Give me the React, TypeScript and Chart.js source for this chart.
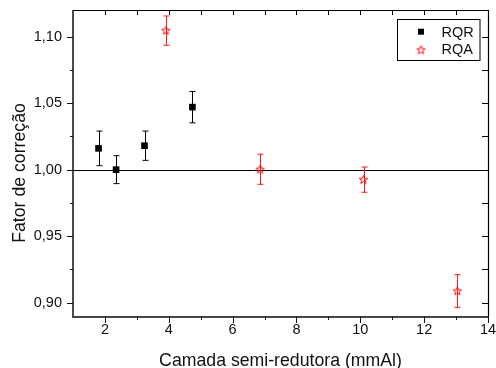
import React, { useEffect, useRef } from 'react';
import { Chart, registerables } from 'chart.js';

Chart.register(...registerables);

// ---- data ----
const seriesNames = ['RQR', 'RQA'];
const rqrX = [1.8, 2.35, 3.24, 4.74];
const rqrY = [1.016, 1.0, 1.018, 1.047];
const rqrErr = [0.013, 0.0105, 0.011, 0.0118];
const rqaX = [3.91, 6.86, 10.1, 13.04];
const rqaY = [1.1045, 1.0003, 0.9925, 0.9088];
const rqaErr = [0.011, 0.0113, 0.0095, 0.0123];
const xTickLabels = [2, 4, 6, 8, 10, 12, 14];
const xMinorTicks = [3, 5, 7, 9, 11, 13];
const yTickLabels = [0.9, 0.95, 1.0, 1.05, 1.1];
const yMinorTicks = [0.925, 0.975, 1.025, 1.075];
const referenceLine = [1.0];
const xTitle = 'Camada semi-redutora (mmAl)';
const yTitle = 'Fator de correção';

const FONT = '"Liberation Sans", Arial, sans-serif';
const RED = '#ff0000';

function makeStar(color: string): HTMLCanvasElement {
  const c = document.createElement('canvas');
  c.width = 11;
  c.height = 11;
  const ctx = c.getContext('2d')!;
  const cx = 5.5, cy = 5.7, ro = 4.4, ri = 1.9;
  ctx.beginPath();
  for (let i = 0; i < 10; i++) {
    const r = i % 2 === 0 ? ro : ri;
    const a = -Math.PI / 2 + (i * Math.PI) / 5;
    const px = cx + r * Math.cos(a);
    const py = cy + r * Math.sin(a);
    if (i === 0) ctx.moveTo(px, py);
    else ctx.lineTo(px, py);
  }
  ctx.closePath();
  ctx.strokeStyle = color;
  ctx.lineWidth = 1;
  ctx.stroke();
  return c;
}

export default function App() {
  const ref = useRef<HTMLCanvasElement | null>(null);

  useEffect(() => {
    document.body.style.margin = '0';
    const canvas = ref.current!;
    const star = makeStar(RED);
    const errs = [rqrErr, rqaErr];
    const errColors = ['#000000', '#ff1a1a'];

    const framePlugin = {
      id: 'frame',
      beforeDatasetsDraw(chart: any) {
        const { ctx, chartArea: a, scales } = chart;
        const xs = scales.x, ys = scales.y;
        ctx.save();
        // reference line
        ctx.strokeStyle = '#000';
        ctx.lineWidth = 1;
        referenceLine.forEach((v) => {
          const py = Math.round(ys.getPixelForValue(v)) + 0.5;
          ctx.beginPath();
          ctx.moveTo(a.left, py);
          ctx.lineTo(a.right, py);
          ctx.stroke();
        });
        // error bars
        chart.data.datasets.forEach((ds: any, di: number) => {
          const e = errs[di];
          ctx.strokeStyle = errColors[di];
          ctx.lineWidth = 1;
          ds.data.forEach((p: any, i: number) => {
            const px = Math.round(xs.getPixelForValue(p.x)) + 0.5;
            const top = ys.getPixelForValue(p.y + e[i]);
            const bot = ys.getPixelForValue(p.y - e[i]);
            ctx.beginPath();
            ctx.moveTo(px, top);
            ctx.lineTo(px, bot);
            ctx.moveTo(px - 3, top);
            ctx.lineTo(px + 3, top);
            ctx.moveTo(px - 3, bot);
            ctx.lineTo(px + 3, bot);
            ctx.stroke();
          });
        });
        ctx.restore();
      },
      afterDraw(chart: any) {
        const { ctx, chartArea: a, scales } = chart;
        const xs = scales.x, ys = scales.y;
        ctx.save();
        // top & right frame
        ctx.strokeStyle = '#000';
        ctx.lineWidth = 1.2;
        ctx.beginPath();
        ctx.moveTo(a.left, a.top + 0.5);
        ctx.lineTo(a.right + 0.5, a.top + 0.5);
        ctx.lineTo(a.right + 0.5, a.bottom);
        ctx.stroke();
        // top ticks (inward)
        ctx.lineWidth = 1;
        ctx.beginPath();
        [...xTickLabels, ...xMinorTicks].forEach((v) => {
          if (v <= xs.min || v >= xs.max) return;
          const px = Math.round(xs.getPixelForValue(v)) + 0.5;
          ctx.moveTo(px, a.top);
          ctx.lineTo(px, a.top + 5);
        });
        // right ticks (inward)
        [...yTickLabels, ...yMinorTicks].forEach((v) => {
          const py = Math.round(ys.getPixelForValue(v)) + 0.5;
          ctx.moveTo(a.right, py);
          ctx.lineTo(a.right - 6, py);
        });
        ctx.stroke();
        // left axis
        ctx.strokeStyle = '#111';
        ctx.lineWidth = 1.5;
        ctx.beginPath();
        ctx.moveTo(a.left, a.top);
        ctx.lineTo(a.left, a.bottom);
        ctx.stroke();
        ctx.lineWidth = 1;
        ctx.beginPath();
        yTickLabels.forEach((v) => {
          const py = Math.round(ys.getPixelForValue(v)) + 0.5;
          ctx.moveTo(a.left, py);
          ctx.lineTo(a.left - 6, py);
        });
        yMinorTicks.forEach((v) => {
          const py = Math.round(ys.getPixelForValue(v)) + 0.5;
          ctx.moveTo(a.left, py);
          ctx.lineTo(a.left - 3, py);
        });
        ctx.stroke();
        // bottom axis
        ctx.strokeStyle = '#444';
        ctx.lineWidth = 2;
        ctx.beginPath();
        ctx.moveTo(a.left - 1, a.bottom + 1);
        ctx.lineTo(a.right + 1, a.bottom + 1);
        ctx.stroke();
        ctx.strokeStyle = '#111';
        ctx.lineWidth = 1;
        ctx.beginPath();
        xTickLabels.forEach((v) => {
          const px = Math.round(xs.getPixelForValue(v)) + 0.5;
          ctx.moveTo(px, a.bottom);
          ctx.lineTo(px, a.bottom + 7);
        });
        xMinorTicks.forEach((v) => {
          const px = Math.round(xs.getPixelForValue(v)) + 0.5;
          ctx.moveTo(px, a.bottom);
          ctx.lineTo(px, a.bottom + 4);
        });
        ctx.stroke();
        // titles
        ctx.fillStyle = '#111';
        ctx.font = `17.7px ${FONT}`;
        ctx.textAlign = 'center';
        ctx.textBaseline = 'alphabetic';
        ctx.fillText(xTitle, (a.left + a.right) / 2, 366);
        ctx.save();
        ctx.translate(25, 173);
        ctx.rotate(-Math.PI / 2);
        ctx.fillText(yTitle, 0, 0);
        ctx.restore();
        // legend
        const lx = 397.5, ly = 19.5, lw = 82.5, lh = 41;
        ctx.fillStyle = '#fff';
        ctx.fillRect(lx, ly, lw, lh);
        ctx.strokeStyle = '#000';
        ctx.lineWidth = 1;
        ctx.strokeRect(lx, ly, lw, lh);
        ctx.fillStyle = '#000';
        ctx.fillRect(418, 28.7, 6, 6);
        ctx.drawImage(star, 421 - 5.5, 50 - 5.5);
        ctx.font = `14.5px ${FONT}`;
        ctx.textAlign = 'left';
        ctx.textBaseline = 'middle';
        ctx.fillStyle = '#111';
        ctx.fillText(seriesNames[0], 441.5, 32.5);
        ctx.fillText(seriesNames[1], 441.5, 50);
        ctx.restore();
      },
    };

    const chart = new Chart(canvas, {
      type: 'scatter',
      data: {
        datasets: [
          {
            label: seriesNames[0],
            data: rqrX.map((x, i) => ({ x, y: rqrY[i] })),
            pointStyle: 'rect',
            pointRadius: 4.7,
            pointBackgroundColor: '#000',
            pointBorderColor: '#000',
            pointBorderWidth: 0,
          },
          {
            label: seriesNames[1],
            data: rqaX.map((x, i) => ({ x, y: rqaY[i] })),
            pointStyle: star as any,
            pointRadius: 5,
            pointBackgroundColor: 'rgba(0,0,0,0)',
            pointBorderColor: RED,
          },
        ],
      },
      options: {
        animation: false,
        responsive: false,
        events: [],
        layout: { padding: { top: 10, right: 8, left: 0, bottom: 0 } },
        plugins: {
          legend: { display: false },
          tooltip: { enabled: false },
          title: { display: false },
        },
        scales: {
          x: {
            type: 'linear',
            min: 1,
            max: 14,
            grid: { display: false, drawTicks: false },
            border: { display: false },
            ticks: {
              autoSkip: false,
              maxRotation: 0,
              padding: 5,
              color: '#111',
              font: { size: 14.5, family: FONT },
              callback: (v: any) => String(v),
            },
            afterBuildTicks: (s: any) => {
              s.ticks = xTickLabels.map((v) => ({ value: v }));
            },
            afterFit: (s: any) => {
              s.height = 52;
              s.paddingLeft = 0;
              s.paddingRight = 0;
            },
          },
          y: {
            type: 'linear',
            min: 0.89,
            max: 1.12,
            grid: { display: false, drawTicks: false },
            border: { display: false },
            ticks: {
              autoSkip: false,
              padding: 11,
              color: '#111',
              font: { size: 14.5, family: FONT },
              callback: (v: any) => Number(v).toFixed(2).replace('.', ','),
            },
            afterBuildTicks: (s: any) => {
              s.ticks = yTickLabels.map((v) => ({ value: v }));
            },
            afterFit: (s: any) => {
              s.width = 73;
              s.paddingTop = 0;
              s.paddingBottom = 0;
            },
          },
        },
      },
      plugins: [framePlugin],
    });
    return () => chart.destroy();
  }, []);

  return (
    <div style={{ width: 496, height: 368 }}>
      <canvas ref={ref} width={496} height={368} style={{ width: 496, height: 368, display: 'block' }} />
    </div>
  );
}
